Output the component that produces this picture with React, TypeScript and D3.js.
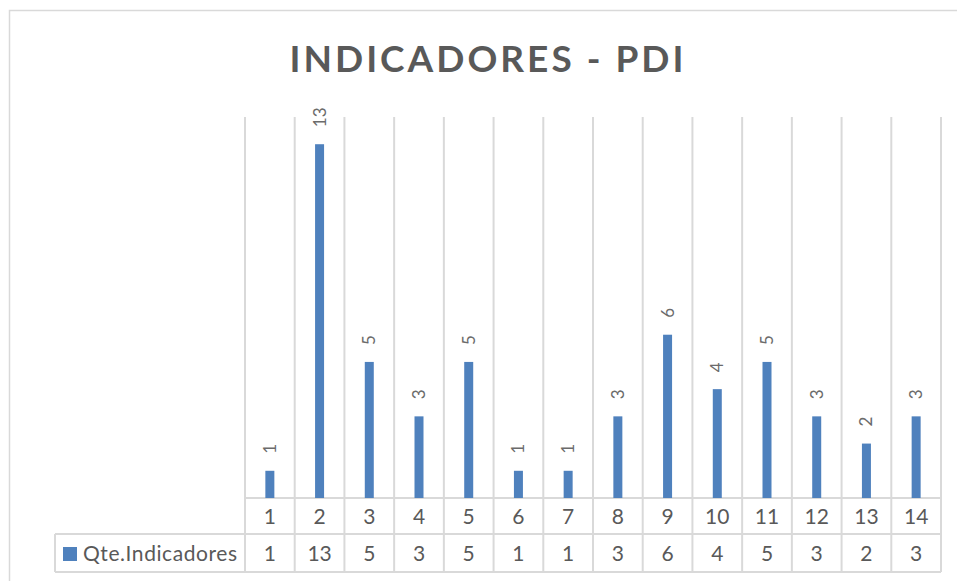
import { useEffect } from "react";
import * as d3 from "d3";

// chart data
const categories = ["1", "2", "3", "4", "5", "6", "7", "8", "9", "10", "11", "12", "13", "14"];
const seriesName = "Qte.Indicadores";
const values = [1, 13, 5, 3, 5, 1, 1, 3, 6, 4, 5, 3, 2, 3];
const chartTitle = "INDICADORES - PDI";

const W = 957;
const H = 581;
const grid = "#d9d9d9";
const textColor = "#595959";
const barColor = "#4f81bd";
const font = "Lato, 'Open Sans', sans-serif";

export default function App() {
    useEffect(() => {
        document.body.style.margin = "0";
    }, []);

    // plot area
    const left = 245, right = 941, top = 117, bottom = 498;
    const row1 = 534, row2 = 572, legendLeft = 55;

    const x = d3.scaleBand().domain(categories).range([left, right]).padding(0);
    const y = d3.scaleLinear().domain([0, 14]).range([bottom, top]);
    const barW = 9;

    const edges = categories.map((c) => x(c) as number).concat([right]);

    return (
        <svg width={W} height={H} style={{ display: "block" }} fontFamily={font}>
            <rect x={0} y={0} width={W} height={H} fill="#fff" />
            {/* chart border */}
            <rect x={9.5} y={10.5} width={W + 20} height={H + 20} fill="none" stroke={grid} strokeWidth={1.5} />

            <text x={488} y={72} textAnchor="middle" fontSize={37} fontWeight="bold" letterSpacing={3} fill={textColor}>
                {chartTitle}
            </text>

            {/* vertical gridlines through plot and table */}
            {edges.map((ex, i) => (
                <line key={"g" + i} x1={ex} x2={ex} y1={top} y2={row2} stroke={grid} strokeWidth={2} />
            ))}
            <line x1={legendLeft} x2={legendLeft} y1={row1} y2={row2} stroke={grid} strokeWidth={2} />
            <line x1={left} x2={right} y1={bottom} y2={bottom} stroke={grid} strokeWidth={2} />
            <line x1={legendLeft} x2={right} y1={row1} y2={row1} stroke={grid} strokeWidth={2} />
            <line x1={legendLeft} x2={right} y1={row2} y2={row2} stroke={grid} strokeWidth={2} />

            {/* bars */}
            {values.map((v, i) => {
                const cx = (x(categories[i]) as number) + x.bandwidth() / 2;
                return (
                    <g key={"b" + i}>
                        <rect x={cx - barW / 2} y={y(v)} width={barW} height={bottom - y(v)} fill={barColor} />
                        <text
                            transform={`translate(${cx + 6},${y(v) - 17}) rotate(-90)`}
                            fontSize={17}
                            fill="#6b6b6b"
                        >
                            {v}
                        </text>
                    </g>
                );
            })}

            {/* data table */}
            {categories.map((c, i) => {
                const cx = (x(c) as number) + x.bandwidth() / 2;
                return (
                    <g key={"t" + i} fontSize={21} fill={textColor} textAnchor="middle">
                        <text x={cx} y={(bottom + row1) / 2} dy="0.36em">{c}</text>
                        <text x={cx} y={(row1 + row2) / 2} dy="0.36em">{values[i]}</text>
                    </g>
                );
            })}
            <rect x={63} y={547} width={14} height={14} fill={barColor} />
            <text x={83} y={(row1 + row2) / 2} dy="0.36em" fontSize={21} textLength={154} fill={textColor}>
                {seriesName}
            </text>
        </svg>
    );
}
